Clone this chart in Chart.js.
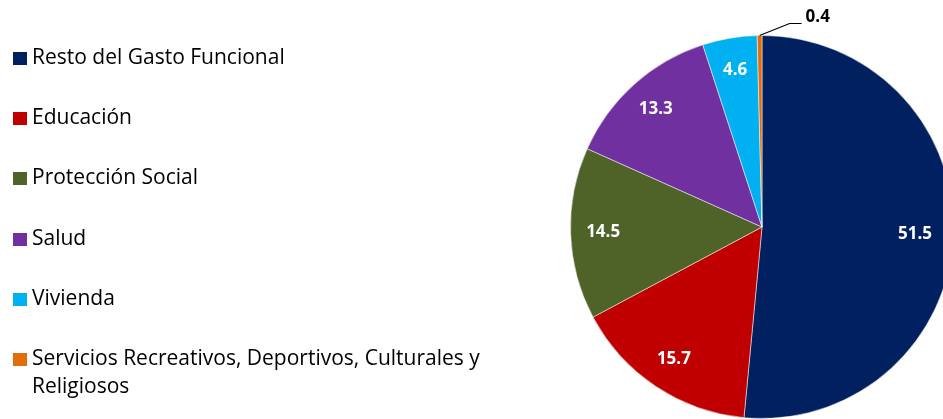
<!DOCTYPE html>
<html>
<head>
<meta charset="utf-8">
<script src="https://cdn.jsdelivr.net/npm/chart.js@4.4.1/dist/chart.umd.min.js"></script>
<style>
  html, body { margin: 0; padding: 0; background: #fff; overflow: hidden; }
  #wrap { position: relative; width: 960px; height: 419px; }
  #pieChart { position: absolute; left: 0; top: 0; }
  #legend { position: absolute; left: 0; top: 0; font-family: "Open Sans", Lato, sans-serif; font-size: 21px; color: #000; }
  .item { position: absolute; left: 13px; white-space: nowrap; line-height: 28px; }
  .box { position: absolute; left: 0; top: 10px; width: 14px; height: 13px; }
  .txt { position: absolute; left: 19px; top: 0; }
</style>
</head>
<body>
<div id="wrap">
  <canvas id="pieChart" width="960" height="419"></canvas>
  <div id="legend"></div>
</div>
<script>
const categorias = [
  "Resto del Gasto Funcional",
  "Educación",
  "Protección Social",
  "Salud",
  "Vivienda",
  ["Servicios Recreativos, Deportivos, Culturales y", "Religiosos"]
];
const valores = [51.5, 15.7, 14.5, 13.3, 4.6, 0.4];
const colores = ["#002060", "#C00000", "#4F6228", "#7030A0", "#00B0F0", "#E46C0A"];

// leyenda a la izquierda
const legendEl = document.getElementById("legend");
categorias.forEach(function (cat, i) {
  const item = document.createElement("div");
  item.className = "item";
  item.style.top = (42 + i * 60.2) + "px";
  const box = document.createElement("div");
  box.className = "box";
  box.style.background = colores[i];
  const txt = document.createElement("div");
  txt.className = "txt";
  txt.innerHTML = Array.isArray(cat) ? cat.join("<br>") : cat;
  item.appendChild(box);
  item.appendChild(txt);
  legendEl.appendChild(item);
});

// etiquetas de datos
const etiquetasPlugin = {
  id: "etiquetas",
  afterDatasetsDraw(chart) {
    const ctx = chart.ctx;
    const meta = chart.getDatasetMeta(0);
    ctx.save();
    ctx.font = "bold 17px 'Open Sans', Lato, sans-serif";
    ctx.textBaseline = "middle";
    meta.data.forEach(function (arc, i) {
      const p = arc.getProps(["x", "y", "startAngle", "endAngle", "outerRadius"], true);
      const mid = (p.startAngle + p.endAngle) / 2;
      const texto = valores[i].toFixed(1);
      if (valores[i] < 2) {
        const x0 = p.x + Math.cos(mid) * p.outerRadius;
        const y0 = p.y + Math.sin(mid) * p.outerRadius;
        ctx.strokeStyle = "#000";
        ctx.lineWidth = 1.2;
        ctx.beginPath();
        ctx.moveTo(x0, y0);
        ctx.lineTo(x0 + 30, y0 - 12);
        ctx.lineTo(x0 + 42, y0 - 12);
        ctx.stroke();
        ctx.fillStyle = "#000";
        ctx.textAlign = "left";
        ctx.fillText(texto, x0 + 46, y0 - 18);
      } else {
        const r = p.outerRadius * (i === 0 ? 0.8 : 0.83);
        ctx.fillStyle = "#fff";
        ctx.textAlign = "center";
        ctx.fillText(texto, p.x + Math.cos(mid) * r, p.y + Math.sin(mid) * r);
      }
    });
    ctx.restore();
  }
};

const ctxPie = document.getElementById("pieChart").getContext("2d");
const pieChart = new Chart(ctxPie, {
  type: "pie",
  data: {
    labels: categorias,
    datasets: [
      {
        data: valores,
        backgroundColor: colores,
        borderColor: "rgba(255, 255, 255, 0.5)",
        borderWidth: 1,
        hoverOffset: 0,
      },
    ],
  },
  options: {
    responsive: false,
    animation: false,
    layout: {
      padding: { left: 570, right: 6, top: 35, bottom: 0 },
    },
    plugins: {
      legend: { display: false },
      tooltip: { enabled: false },
    },
  },
  plugins: [etiquetasPlugin],
});
</script>
</body>
</html>
